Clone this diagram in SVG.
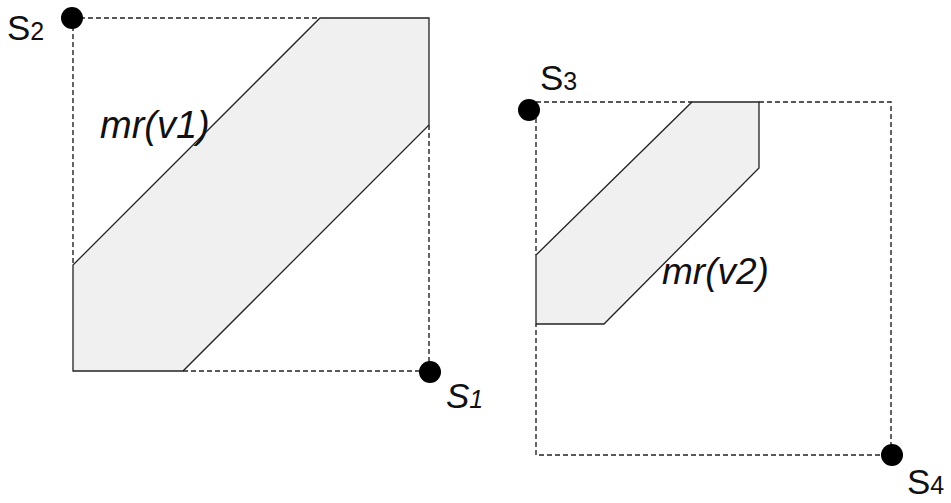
<svg xmlns="http://www.w3.org/2000/svg" width="951" height="503" viewBox="0 0 951 503">
<style>
.dash{fill:none;stroke:#222;stroke-width:1.4;stroke-dasharray:5 3}
.mr{fill:#f0f0f0;stroke:#222;stroke-width:1.3}
.dot{fill:#000}
.lbl{font-family:"Liberation Sans",Arial,sans-serif;fill:#111}
.it{font-style:italic}
</style>
<rect width="951" height="503" fill="#fff"/>
<g id="connectors">
<polyline class="dash" points="72,18 320,18"/>
<polyline class="dash" points="73,18 73,265"/>
<polyline class="dash" points="429,125 429,371"/>
<polyline class="dash" points="183,371 430,371"/>
<polyline class="dash" points="528,102 692,102"/>
<polyline class="dash" points="759,102 891,102 891,455 536,455 536,324"/>
<polyline class="dash" points="536,102 536,255"/>
</g>
<g id="mr-v1">
<polygon class="mr" points="320,18 429,18 429,125 183,371 73,371 73,265"/>
<text class="lbl it" x="100" y="138" font-size="38">mr(v1)</text>
</g>
<g id="mr-v2">
<polygon class="mr" points="692,102 759,102 759,168 604,324 536,324 536,255"/>
<text class="lbl it" x="662" y="284" font-size="37">mr(v2)</text>
</g>
<g id="S2">
<circle class="dot" cx="72" cy="18" r="11"/>
<text class="lbl" x="7" y="40" font-size="35">S<tspan font-size="25">2</tspan></text>
</g>
<g id="S1">
<circle class="dot" cx="430" cy="372" r="11"/>
<text class="lbl it" x="446" y="408" font-size="35">S<tspan font-size="25">1</tspan></text>
</g>
<g id="S3">
<circle class="dot" cx="529" cy="110" r="11"/>
<text class="lbl" x="540" y="90" font-size="35">S<tspan font-size="25">3</tspan></text>
</g>
<g id="S4">
<circle class="dot" cx="892" cy="455" r="11"/>
<text class="lbl" x="907" y="494" font-size="35">S<tspan font-size="25">4</tspan></text>
</g>
</svg>
